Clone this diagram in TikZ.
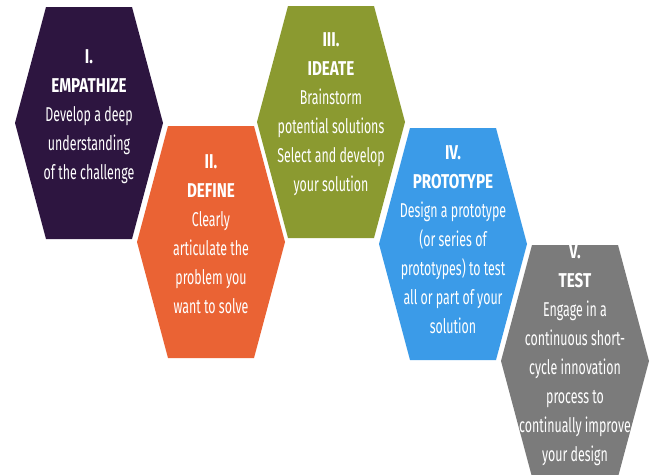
\documentclass[tikz,border=0pt]{standalone}
\usepackage{fontspec}
\setmainfont[FakeStretch=0.62]{Fira Sans}
\newfontfamily\headfont[FakeStretch=0.76]{Fira Sans}
\usepackage{tikz}
\usetikzlibrary{calc}
\definecolor{empcol}{HTML}{2D1540}
\definecolor{defcol}{HTML}{EA6334}
\definecolor{ideacol}{HTML}{8B9A30}
\definecolor{protcol}{HTML}{3B9BE8}
\definecolor{testcol}{HTML}{7B7B7B}
\newcommand{\stage}[1]{{\headfont\bfseries #1}}
\tikzset{hexa/.style={line join=miter},
 lbl/.style={text=white, align=center, inner sep=0, font=\fontsize{20}{29}\selectfont}}

\begin{document}
\begin{tikzpicture} [x=1pt,y=-1pt]
\clip (0,0) rectangle (652,474);
\fill[white] (0,0) rectangle (652,474);
\foreach \cx/\cy/\col in {89/123/empcol, 211/242/defcol, 331/122/ideacol, 453/244/protcol, 575/361/testcol} {
 \fill[hexa, \col] (\cx-74,\cy) -- (\cx-43,\cy-116) -- (\cx+43,\cy-116) -- (\cx+74,\cy) -- (\cx+43,\cy+116) -- (\cx-43,\cy+116) -- cycle;
}
\node[lbl] (empathize) at (89,117) {\stage{I.}\\\stage{EMPATHIZE}\\Develop a deep\\understanding\\of the challenge};
\node[lbl] (define) at (211,234) {\stage{II.}\\\stage{DEFINE}\\Clearly\\articulate the\\problem you\\want to solve};
\node[lbl] (ideate) at (331,114) {\stage{III.}\\\stage{IDEATE}\\Brainstorm\\potential solutions\\Select and develop\\your solution};
\node[lbl] (prototype) at (453,240) {\stage{IV.}\\\stage{PROTOTYPE}\\Design a prototype\\(or series of\\prototypes) to test\\all or part of your\\solution};
\node[lbl] (test) at (575,355) {\stage{V.}\\\stage{TEST}\\Engage in a\\continuous short-\\cycle innovation\\process to\\continually improve\\your design};
\end{tikzpicture}
\end{document}
